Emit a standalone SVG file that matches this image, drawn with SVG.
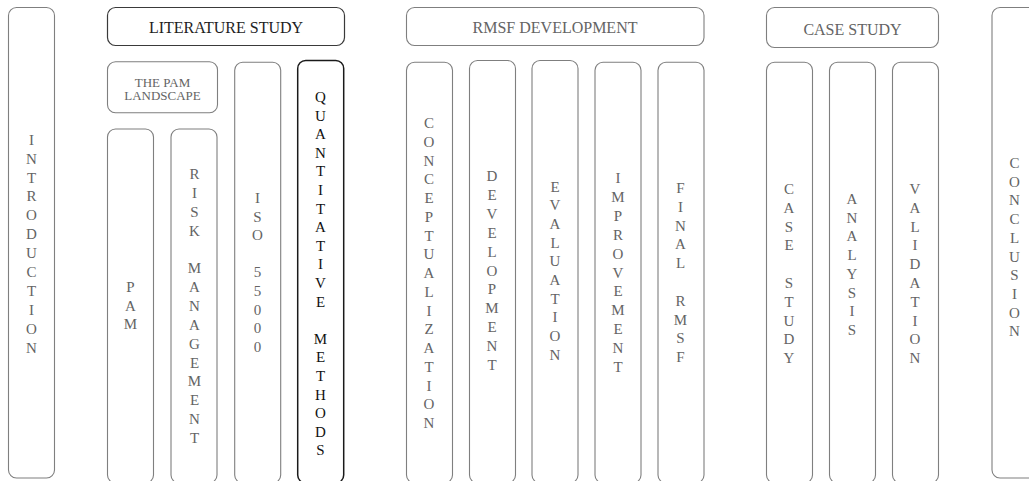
<svg xmlns="http://www.w3.org/2000/svg" width="1029" height="481" viewBox="0 0 1029 481">
  <style>
    .box { fill: #ffffff; stroke: #7f7f7f; stroke-width: 1.1; }
    .box-dark { fill: #ffffff; stroke: #1a1a1a; stroke-width: 1.5; }
    .box-hd { fill: #ffffff; stroke: #3a3a3a; stroke-width: 1.2; }
    .lbl { font-family: "Liberation Serif", "Times New Roman", serif; font-size: 15px; fill: #646464; text-anchor: middle; }
    .lbl-dark { fill: #111111; }
    .hd { font-family: "Liberation Serif", "Times New Roman", serif; font-size: 16px; fill: #646464; text-anchor: middle; }
    .hd-dark { fill: #1e1e1e; }
    .sm { font-family: "Liberation Serif", "Times New Roman", serif; font-size: 13px; fill: #646464; text-anchor: middle; }
  </style>

  <rect width="1029" height="481" fill="#ffffff"/>

  <!-- Chapter 1 -->
  <g id="introduction">
    <rect class="box" x="8.5" y="7.5" width="46" height="470.5" rx="8"/>
    <text class="lbl" x="31.5" y="144.7"><tspan x="31.5">I</tspan><tspan x="31.5" dy="18.9">N</tspan><tspan x="31.5" dy="18.9">T</tspan><tspan x="31.5" dy="18.9">R</tspan><tspan x="31.5" dy="18.9">O</tspan><tspan x="31.5" dy="18.9">D</tspan><tspan x="31.5" dy="18.9">U</tspan><tspan x="31.5" dy="18.9">C</tspan><tspan x="31.5" dy="18.9">T</tspan><tspan x="31.5" dy="18.9">I</tspan><tspan x="31.5" dy="18.9">O</tspan><tspan x="31.5" dy="18.9">N</tspan></text>
  </g>

  <!-- Literature study -->
  <g id="literature-study">
    <rect class="box-hd" x="107.5" y="7.5" width="237" height="38" rx="8"/>
    <text class="hd hd-dark" x="226" y="33">LITERATURE STUDY</text>
  </g>
  <g id="pam-landscape">
    <rect class="box" x="107.5" y="61.7" width="110" height="51" rx="8"/>
    <text class="sm" x="162.5" y="86.5">THE PAM</text>
    <text class="sm" x="162.5" y="99.5">LANDSCAPE</text>
  </g>
  <g id="pam">
    <rect class="box" x="107.5" y="129" width="46" height="354" rx="8"/>
    <text class="lbl" x="130.5" y="292"><tspan x="130.5">P</tspan><tspan x="130.5" dy="18.7">A</tspan><tspan x="130.5" dy="18.7">M</tspan></text>
  </g>
  <g id="risk-management">
    <rect class="box" x="171" y="129" width="46" height="354" rx="8"/>
    <text class="lbl" x="194.5" y="179"><tspan x="194.5">R</tspan><tspan x="194.5" dy="18.85">I</tspan><tspan x="194.5" dy="18.85">S</tspan><tspan x="194.5" dy="18.85">K</tspan><tspan x="194.5" dy="37.7">M</tspan><tspan x="194.5" dy="18.85">A</tspan><tspan x="194.5" dy="18.85">N</tspan><tspan x="194.5" dy="18.85">A</tspan><tspan x="194.5" dy="18.85">G</tspan><tspan x="194.5" dy="18.85">E</tspan><tspan x="194.5" dy="18.85">M</tspan><tspan x="194.5" dy="18.85">E</tspan><tspan x="194.5" dy="18.85">N</tspan><tspan x="194.5" dy="18.85">T</tspan></text>
  </g>
  <g id="iso-55000">
    <rect class="box" x="234.7" y="62.3" width="46" height="420.7" rx="8"/>
    <text class="lbl" x="257.5" y="203"><tspan x="257.5">I</tspan><tspan x="257.5" dy="18.6">S</tspan><tspan x="257.5" dy="18.6">O</tspan><tspan x="257.5" dy="37.2">5</tspan><tspan x="257.5" dy="18.6">5</tspan><tspan x="257.5" dy="18.6">0</tspan><tspan x="257.5" dy="18.6">0</tspan><tspan x="257.5" dy="18.6">0</tspan></text>
  </g>
  <g id="quantitative-methods">
    <rect class="box-dark" x="297.7" y="60.5" width="46" height="422.5" rx="8"/>
    <text class="lbl lbl-dark" x="320.5" y="102"><tspan x="320.5">Q</tspan><tspan x="320.5" dy="18.6">U</tspan><tspan x="320.5" dy="18.6">A</tspan><tspan x="320.5" dy="18.6">N</tspan><tspan x="320.5" dy="18.6">T</tspan><tspan x="320.5" dy="18.6">I</tspan><tspan x="320.5" dy="18.6">T</tspan><tspan x="320.5" dy="18.6">A</tspan><tspan x="320.5" dy="18.6">T</tspan><tspan x="320.5" dy="18.6">I</tspan><tspan x="320.5" dy="18.6">V</tspan><tspan x="320.5" dy="18.6">E</tspan><tspan x="320.5" dy="37.2">M</tspan><tspan x="320.5" dy="18.6">E</tspan><tspan x="320.5" dy="18.6">T</tspan><tspan x="320.5" dy="18.6">H</tspan><tspan x="320.5" dy="18.6">O</tspan><tspan x="320.5" dy="18.6">D</tspan><tspan x="320.5" dy="18.6">S</tspan></text>
  </g>

  <!-- RMSF development -->
  <g id="rmsf-development">
    <rect class="box" x="406.5" y="7.5" width="297.5" height="38" rx="8"/>
    <text class="hd" x="555" y="33">RMSF DEVELOPMENT</text>
  </g>
  <g id="conceptualization">
    <rect class="box" x="406.5" y="62.3" width="46" height="420.7" rx="8"/>
    <text class="lbl" x="429" y="128"><tspan x="429">C</tspan><tspan x="429" dy="18.75">O</tspan><tspan x="429" dy="18.75">N</tspan><tspan x="429" dy="18.75">C</tspan><tspan x="429" dy="18.75">E</tspan><tspan x="429" dy="18.75">P</tspan><tspan x="429" dy="18.75">T</tspan><tspan x="429" dy="18.75">U</tspan><tspan x="429" dy="18.75">A</tspan><tspan x="429" dy="18.75">L</tspan><tspan x="429" dy="18.75">I</tspan><tspan x="429" dy="18.75">Z</tspan><tspan x="429" dy="18.75">A</tspan><tspan x="429" dy="18.75">T</tspan><tspan x="429" dy="18.75">I</tspan><tspan x="429" dy="18.75">O</tspan><tspan x="429" dy="18.75">N</tspan></text>
  </g>
  <g id="development">
    <rect class="box" x="469.5" y="60.5" width="46" height="422.5" rx="8"/>
    <text class="lbl" x="492" y="181"><tspan x="492">D</tspan><tspan x="492" dy="18.9">E</tspan><tspan x="492" dy="18.9">V</tspan><tspan x="492" dy="18.9">E</tspan><tspan x="492" dy="18.9">L</tspan><tspan x="492" dy="18.9">O</tspan><tspan x="492" dy="18.9">P</tspan><tspan x="492" dy="18.9">M</tspan><tspan x="492" dy="18.9">E</tspan><tspan x="492" dy="18.9">N</tspan><tspan x="492" dy="18.9">T</tspan></text>
  </g>
  <g id="evaluation">
    <rect class="box" x="532" y="60.5" width="46" height="422.5" rx="8"/>
    <text class="lbl" x="555" y="191.5"><tspan x="555">E</tspan><tspan x="555" dy="18.7">V</tspan><tspan x="555" dy="18.7">A</tspan><tspan x="555" dy="18.7">L</tspan><tspan x="555" dy="18.7">U</tspan><tspan x="555" dy="18.7">A</tspan><tspan x="555" dy="18.7">T</tspan><tspan x="555" dy="18.7">I</tspan><tspan x="555" dy="18.7">O</tspan><tspan x="555" dy="18.7">N</tspan></text>
  </g>
  <g id="improvement">
    <rect class="box" x="595" y="62.3" width="46" height="420.7" rx="8"/>
    <text class="lbl" x="618" y="183"><tspan x="618">I</tspan><tspan x="618" dy="18.9">M</tspan><tspan x="618" dy="18.9">P</tspan><tspan x="618" dy="18.9">R</tspan><tspan x="618" dy="18.9">O</tspan><tspan x="618" dy="18.9">V</tspan><tspan x="618" dy="18.9">E</tspan><tspan x="618" dy="18.9">M</tspan><tspan x="618" dy="18.9">E</tspan><tspan x="618" dy="18.9">N</tspan><tspan x="618" dy="18.9">T</tspan></text>
  </g>
  <g id="final-rmsf">
    <rect class="box" x="658" y="62.3" width="46" height="420.7" rx="8"/>
    <text class="lbl" x="680.5" y="193"><tspan x="680.5">F</tspan><tspan x="680.5" dy="18.8">I</tspan><tspan x="680.5" dy="18.8">N</tspan><tspan x="680.5" dy="18.8">A</tspan><tspan x="680.5" dy="18.8">L</tspan><tspan x="680.5" dy="37.6">R</tspan><tspan x="680.5" dy="18.8">M</tspan><tspan x="680.5" dy="18.8">S</tspan><tspan x="680.5" dy="18.8">F</tspan></text>
  </g>

  <!-- Case study -->
  <g id="case-study-header">
    <rect class="box" x="766.5" y="7.5" width="172" height="40" rx="8"/>
    <text class="hd" x="852.5" y="35">CASE STUDY</text>
  </g>
  <g id="case-study">
    <rect class="box" x="766.5" y="62.3" width="46" height="420.7" rx="8"/>
    <text class="lbl" x="789" y="194"><tspan x="789">C</tspan><tspan x="789" dy="18.8">A</tspan><tspan x="789" dy="18.8">S</tspan><tspan x="789" dy="18.8">E</tspan><tspan x="789" dy="37.6">S</tspan><tspan x="789" dy="18.8">T</tspan><tspan x="789" dy="18.8">U</tspan><tspan x="789" dy="18.8">D</tspan><tspan x="789" dy="18.8">Y</tspan></text>
  </g>
  <g id="analysis">
    <rect class="box" x="829.5" y="62.3" width="46" height="420.7" rx="8"/>
    <text class="lbl" x="852" y="204"><tspan x="852">A</tspan><tspan x="852" dy="18.7">N</tspan><tspan x="852" dy="18.7">A</tspan><tspan x="852" dy="18.7">L</tspan><tspan x="852" dy="18.7">Y</tspan><tspan x="852" dy="18.7">S</tspan><tspan x="852" dy="18.7">I</tspan><tspan x="852" dy="18.7">S</tspan></text>
  </g>
  <g id="validation">
    <rect class="box" x="892.5" y="62.3" width="46" height="420.7" rx="8"/>
    <text class="lbl" x="915" y="194"><tspan x="915">V</tspan><tspan x="915" dy="18.8">A</tspan><tspan x="915" dy="18.8">L</tspan><tspan x="915" dy="18.8">I</tspan><tspan x="915" dy="18.8">D</tspan><tspan x="915" dy="18.8">A</tspan><tspan x="915" dy="18.8">T</tspan><tspan x="915" dy="18.8">I</tspan><tspan x="915" dy="18.8">O</tspan><tspan x="915" dy="18.8">N</tspan></text>
  </g>

  <!-- Final chapter -->
  <g id="conclusion">
    <rect class="box" x="992" y="7.5" width="46" height="470.5" rx="8"/>
    <text class="lbl" x="1014.5" y="168"><tspan x="1014.5">C</tspan><tspan x="1014.5" dy="18.7">O</tspan><tspan x="1014.5" dy="18.7">N</tspan><tspan x="1014.5" dy="18.7">C</tspan><tspan x="1014.5" dy="18.7">L</tspan><tspan x="1014.5" dy="18.7">U</tspan><tspan x="1014.5" dy="18.7">S</tspan><tspan x="1014.5" dy="18.7">I</tspan><tspan x="1014.5" dy="18.7">O</tspan><tspan x="1014.5" dy="18.7">N</tspan></text>
  </g>

  <!-- no connectors in this layout -->
  <g id="connectors"/>
</svg>
